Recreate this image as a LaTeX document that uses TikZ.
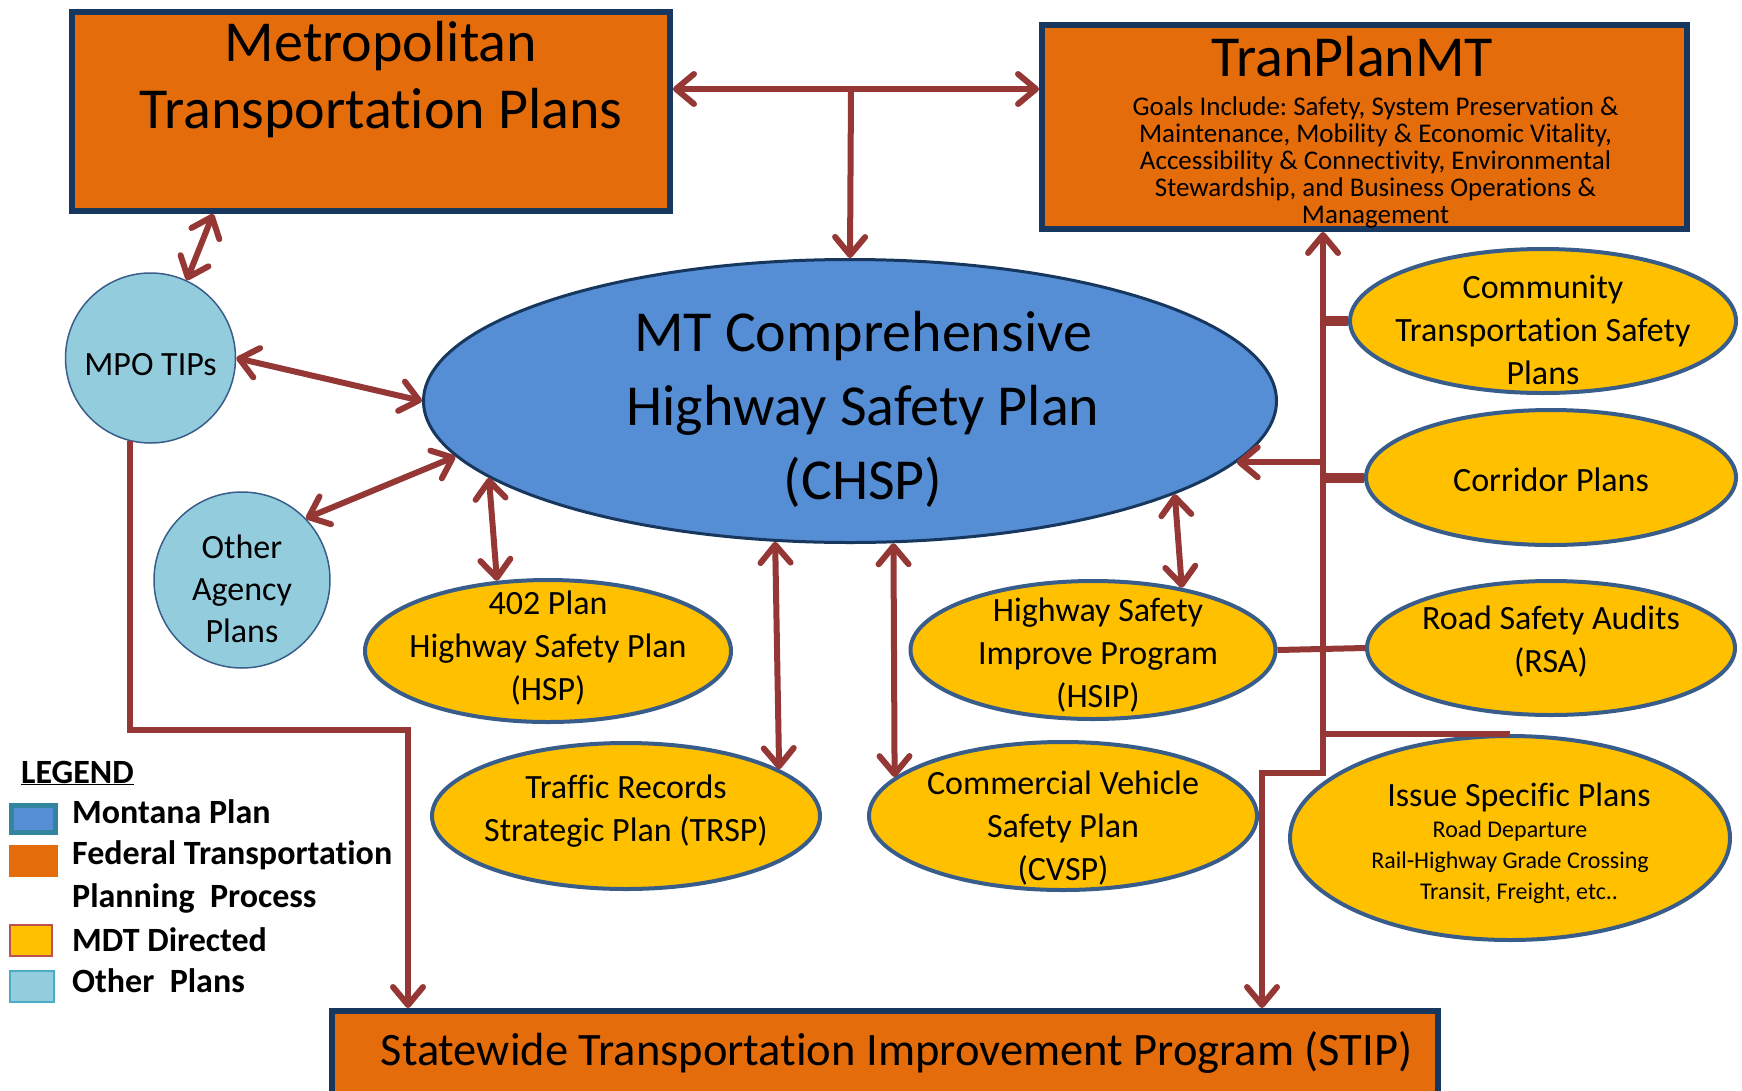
\documentclass[tikz,border=0pt]{standalone}
\usepackage{fontspec}
\setmainfont{Carlito}[Ligatures=NoCommon]
\usetikzlibrary{arrows.meta,shapes.geometric}
\definecolor{mtred}{RGB}{149,55,53}
\definecolor{mtnavy}{RGB}{23,55,94}
\definecolor{fedorange}{RGB}{228,108,10}
\definecolor{mtblue}{RGB}{85,142,213}
\definecolor{mdtyellow}{RGB}{255,192,0}
\definecolor{mdtedge}{RGB}{56,93,138}
\definecolor{otherblue}{RGB}{147,205,221}
\definecolor{legteal}{RGB}{49,133,156}
\definecolor{legred}{RGB}{192,80,77}
\definecolor{legcyan}{RGB}{75,172,198}
\frenchspacing
% invisible struts that fix the top and bottom of a node text
\newcommand{\tstr}[1]{\rule{0pt}{#1}}
\newcommand{\bstr}[1]{\rule[-#1]{0pt}{#1}}
\tikzset{
  fedbox/.style={draw=mtnavy,line width=6pt,fill=fedorange,inner sep=-10pt},
  mdtplan/.style={ellipse,draw=mdtedge,line width=4pt,fill=mdtyellow,inner sep=-30pt,
    align=center,font=\fontsize{34}{43}\selectfont},
  otherplan/.style={circle,draw=mdtedge,line width=1.5pt,fill=otherblue,inner sep=-10pt,
    align=center,font=\fontsize{34}{42}\selectfont},
  flow/.style={draw=mtred,line width=6pt},
  stub/.style={draw=mtred,line width=10pt},
  legtext/.style={anchor=base west,inner sep=0pt,font=\bfseries\fontsize{34}{40}\selectfont},
}

\begin{document}
\begin{tikzpicture}[x=1pt,y=-1pt,>={Straight Barb[length=18pt,width=30pt,round]}]
  \useasboundingbox (0,0) rectangle (1742,1090);

  % federal planning boxes
  \node[fedbox,minimum width=598pt,minimum height=199pt,font=\fontsize{58}{67}\selectfont]
    (metro) at (371,111.5) {\parbox[c][180pt][t]{590pt}{\centering
      \hspace*{20pt}Metropolitan\\\hspace*{20pt}Transportation Plans}};
  \node[fedbox,minimum width=645pt,minimum height=204pt,align=center,font=\fontsize{27}{27}\selectfont]
    (tranplan) at (1364.5,127) {{\fontsize{58}{58}\selectfont\hspace*{-24pt}\tstr{52pt}TranPlanMT}\\[12pt]
      \hspace*{22pt}Goals Include: Safety, System Preservation \&\\
      \hspace*{22pt}Maintenance, Mobility \& Economic Vitality,\\
      \hspace*{22pt}Accessibility \& Connectivity, Environmental\\
      \hspace*{22pt}Stewardship, and Business Operations \&\\
      \hspace*{22pt}Management\bstr{6pt}};
  \node[fedbox,minimum width=1106pt,minimum height=100pt,font=\fontsize{46.5}{50}\selectfont]
    (stip) at (885,1061) {\hspace*{23pt}\tstr{38pt}Statewide Transportation Improvement Program (STIP)\bstr{30pt}};

  % montana plan
  \node[ellipse,draw=mtnavy,line width=3pt,fill=mtblue,inner sep=-40pt,align=center,
    minimum width=853pt,minimum height=283pt,font=\fontsize{58}{74}\selectfont]
    (chsp) at (850,401) {\hspace*{26pt}\tstr{68pt}MT Comprehensive\\\hspace*{26pt}Highway Safety Plan\\
      \hspace*{26pt}(CHSP)\bstr{20pt}};

  % other plans
  \node[otherplan,minimum size=170pt] (mpo) at (150.5,358) {\tstr{44pt}MPO TIPs\bstr{10pt}};
  \node[otherplan,minimum size=176pt] (other) at (242,580) {\tstr{52pt}Other\\Agency\\Plans\bstr{12pt}};

  % MDT directed
  \node[mdtplan,minimum width=366pt,minimum height=142pt] (hsp) at (548,651)
    {\tstr{30pt}402 Plan\\Highway Safety Plan\\(HSP)\bstr{18pt}};
  \node[mdtplan,minimum width=388pt,minimum height=146pt] (trsp) at (626,816)
    {\tstr{28pt}Traffic Records\\Strategic Plan (TRSP)\bstr{21pt}};
  \node[mdtplan,minimum width=365pt,minimum height=138pt] (hsip) at (1093,650)
    {\hspace*{10pt}\tstr{40pt}Highway Safety\\\hspace*{10pt}Improve Program\\\hspace*{10pt}(HSIP)\bstr{12pt}};
  \node[mdtplan,minimum width=388pt,minimum height=148pt] (cvsp) at (1063,816)
    {\tstr{54pt}Commercial Vehicle\\Safety Plan\\(CVSP)\bstr{12pt}};
  \node[mdtplan,minimum width=386pt,minimum height=144pt] (ctsp) at (1543,321)
    {\tstr{52pt}Community\\Transportation Safety\\Plans\bstr{12pt}};
  \node[mdtplan,minimum width=370pt,minimum height=135pt] (corr) at (1551,477.5)
    {\tstr{39pt}Corridor Plans\bstr{12pt}};
  \node[mdtplan,minimum width=368pt,minimum height=134pt] (rsa) at (1551,648)
    {\tstr{28pt}Road Safety Audits\\(RSA)\bstr{22pt}};
  \node[mdtplan,minimum width=440pt,minimum height=204pt,font=\fontsize{24}{31}\selectfont]
    (isp) at (1510,838) {{\fontsize{34}{31}\selectfont\hspace*{18pt}\tstr{39pt}Issue Specific Plans}\\
      Road Departure\\Rail-Highway Grade Crossing\\\hspace*{18pt}Transit, Freight, etc..\bstr{10pt}};

  % legend
  \node[legtext] (legtitle) at (21,783) {\underline{LEGEND}};
  \filldraw[fill=mtblue,draw=legteal,line width=5pt] (11.5,805.5) rectangle (55.5,832.5);
  \fill[fedorange] (9,845) rectangle (58,877);
  \filldraw[fill=mdtyellow,draw=legred,line width=2pt] (10,925) rectangle (52,956);
  \filldraw[fill=otherblue,draw=legcyan,line width=2pt] (10,971) rectangle (54,1002);
  \node[legtext] (montana) at (72,823) {Montana Plan};
  \node[legtext] (federal) at (72,864) {Federal Transportation};
  \node[legtext] (planning) at (72,907) {Planning\ \ Process};
  \node[legtext] (mdt) at (72,951) {MDT Directed};
  \node[legtext] (others) at (72,992) {Other\ \ Plans};

  % top links
  \coordinate (topj) at (851,89);
  \draw[flow,<->] (metro.east |- topj) -- (tranplan.west |- topj);
  \draw[flow,->] (topj) -- (chsp.north);

  % left side
  \draw[flow,<->] (mpo.65) -- (metro.213);
  \draw[flow,<->] (mpo.east) -- (chsp.west);
  \draw[flow,<->] (other.44) -- (chsp.188);
  \coordinate (lbend) at (408,730);
  \draw[flow,->] (mpo.256) |- (lbend) -- (lbend |- stip.north);

  % below the CHSP
  \draw[flow,<->] (chsp.192.8) -- (hsp.126.2);
  \draw[flow,<->] (chsp.242) -- (trsp.17.15);
  \draw[flow,<->] (chsp.287.7) -- (cvsp.167.6);
  \draw[flow,<->] (chsp.344.6) -- (hsip.35.7);

  % right trunk
  \coordinate (trunk) at (1323,773);
  \coordinate (rbend) at (1262,773);
  \draw[flow,<->] (rbend |- stip.north) -- (rbend) -- (trunk) -- (trunk |- tranplan.south);
  \draw[flow,->] (chsp.351.9 -| trunk) -- (chsp.351.9);
  \draw[stub] (ctsp.west -| trunk) -- (ctsp.west);
  \draw[stub] (corr.west -| trunk) -- (corr.west);
  \draw[flow] (hsip.east) -- (rsa.west);
  \draw[flow] (isp.north) -- (isp.north -| trunk);
\end{tikzpicture}
\end{document}
